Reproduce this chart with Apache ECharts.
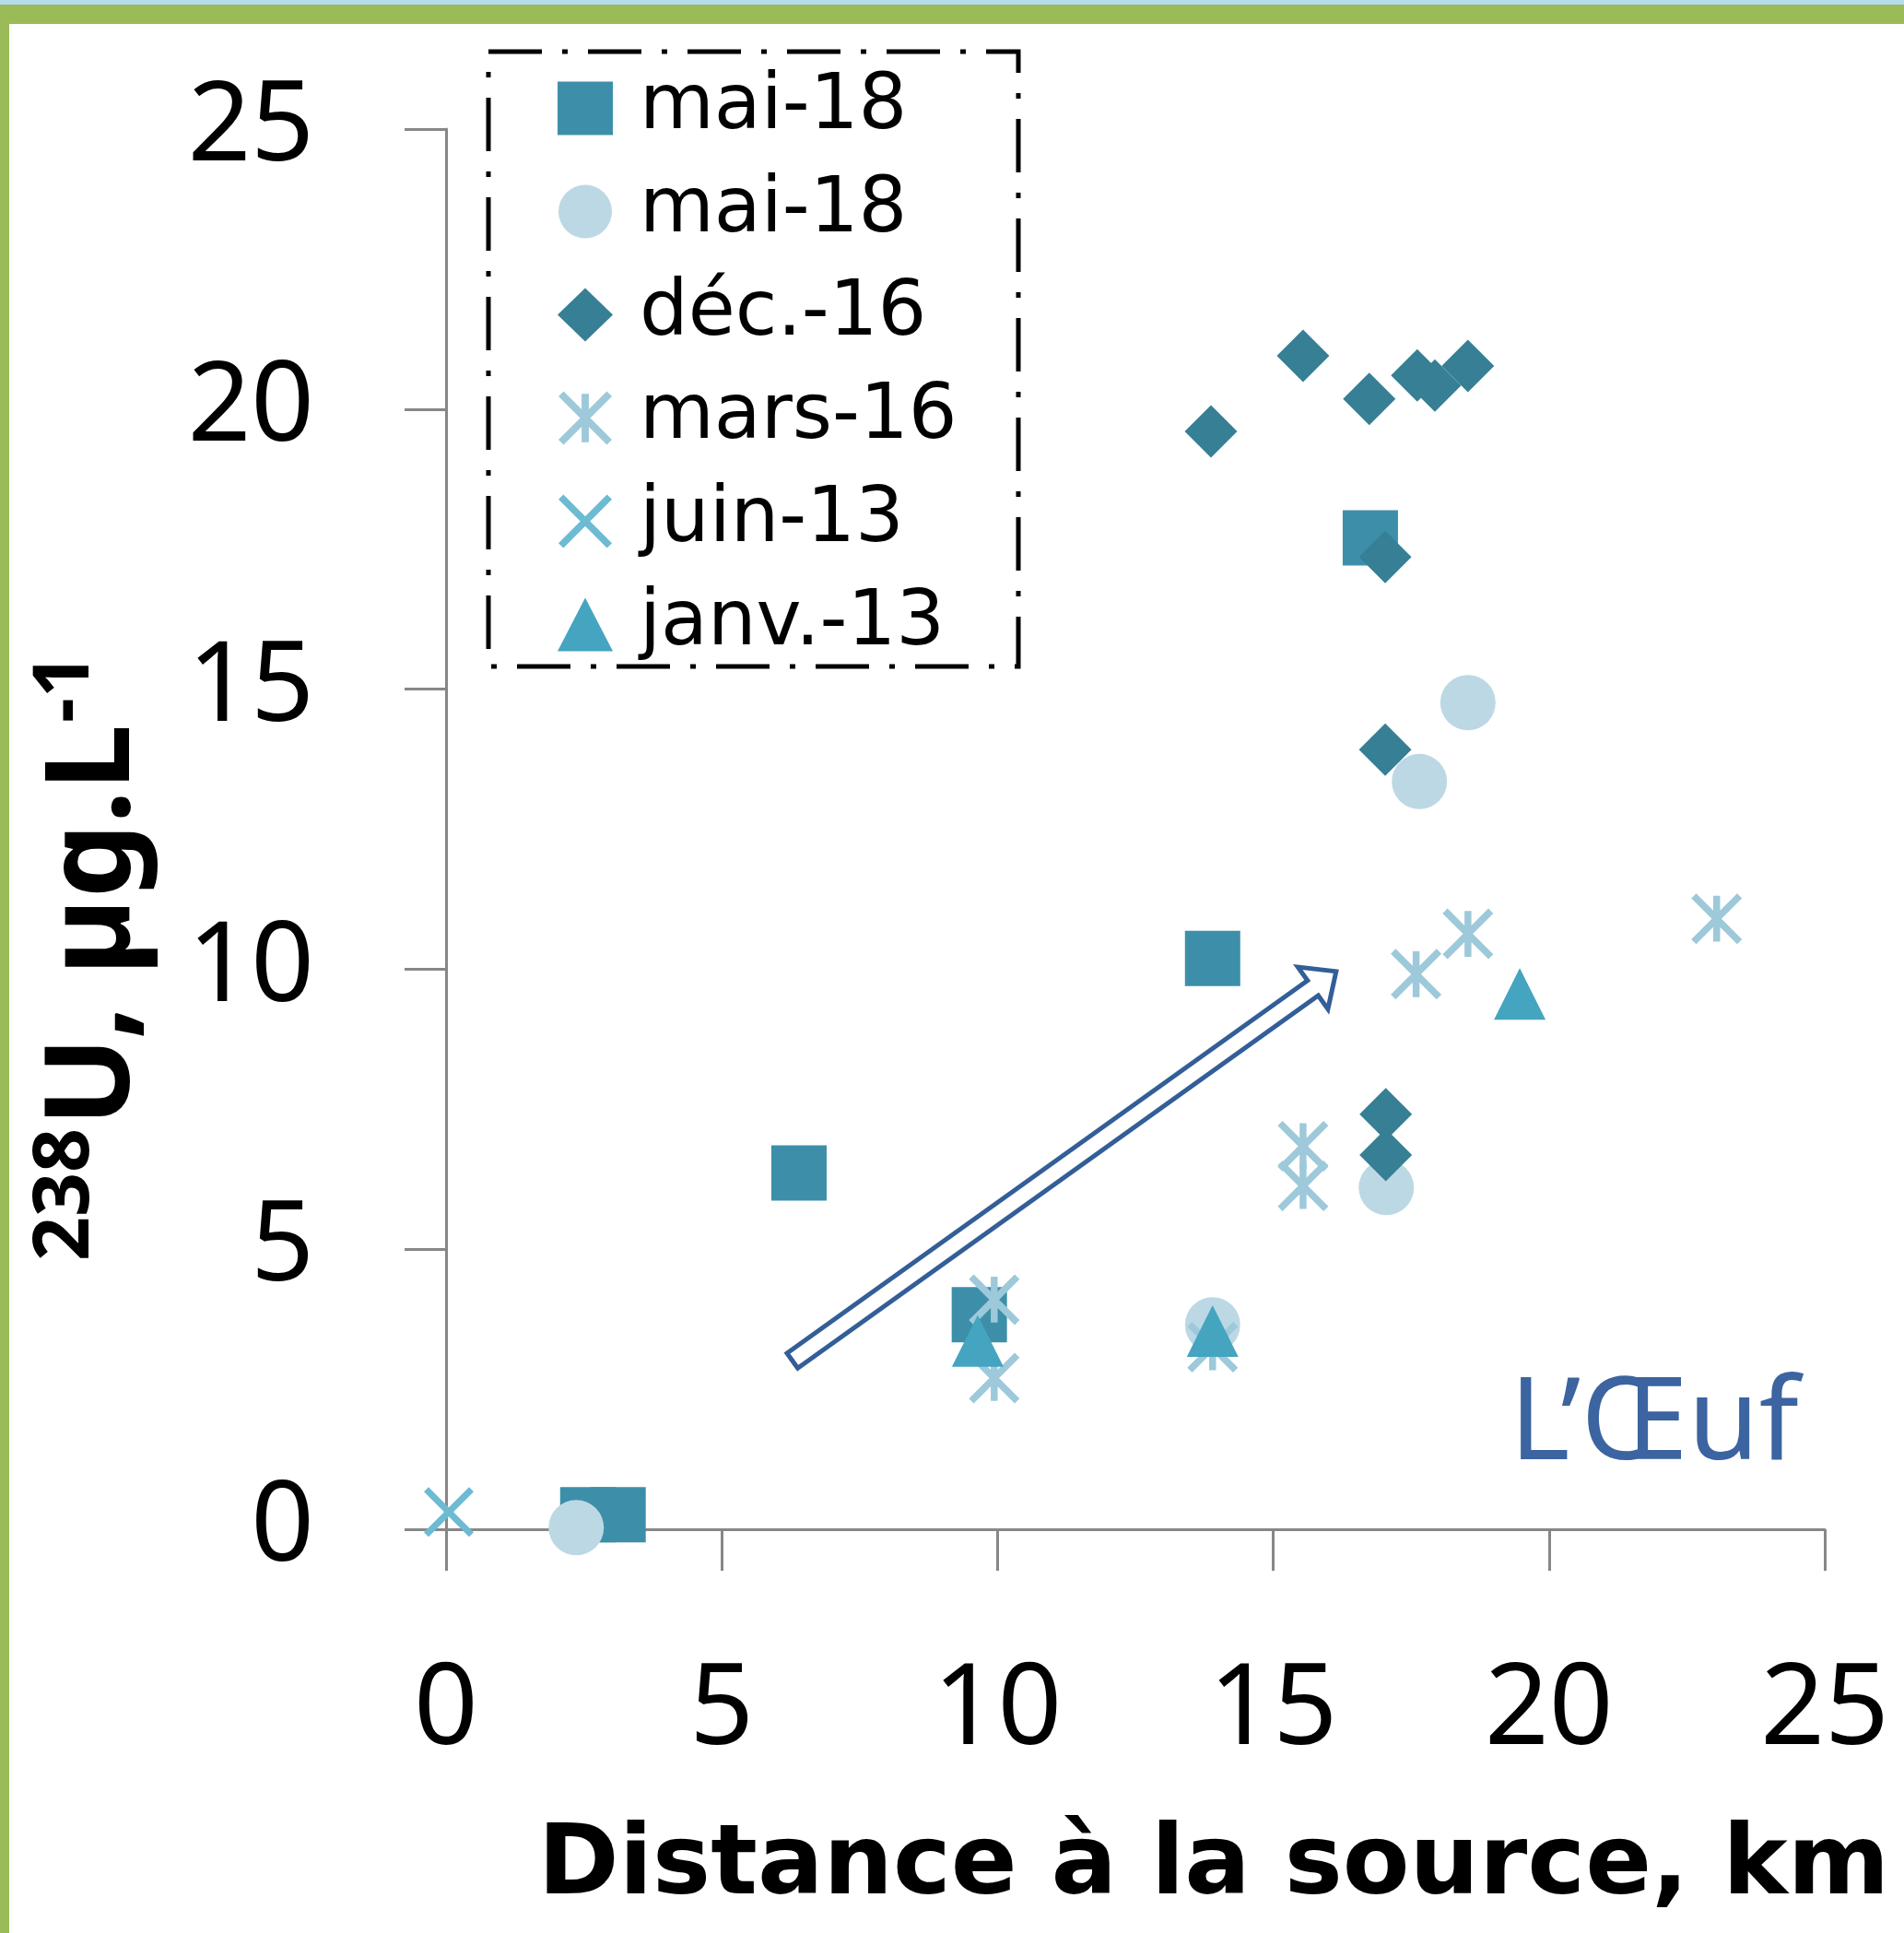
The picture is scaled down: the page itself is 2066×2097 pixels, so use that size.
<!DOCTYPE html>
<html><head><meta charset="utf-8">
<script src="https://cdn.jsdelivr.net/npm/echarts@6/dist/echarts.min.js"></script>
<style>html,body{margin:0;padding:0;background:#fff;} #c{width:2066px;height:2097px;}</style>
</head><body><div id="c"></div>
<script>
// ---------- data ----------
const seriesNames = ['mai-18', 'mai-18', 'déc.-16', 'mars-16', 'juin-13', 'janv.-13'];
const maiSquares = [[2.57, 0.26], [3.12, 0.26], [6.40, 6.36], [9.67, 3.83], [13.90, 10.19], [16.76, 17.70]];
const maiCircles = [[2.36, 0.03], [13.90, 3.65], [17.05, 6.10], [17.65, 13.35], [18.53, 14.76]];
const decDiamonds = [[13.87, 19.60], [15.54, 20.95], [16.74, 20.18], [17.61, 20.60], [17.93, 20.42], [18.53, 20.77], [17.03, 17.36], [17.03, 13.92], [17.04, 7.41], [17.04, 6.68]];
const marsStars = [[9.94, 4.10], [9.94, 2.70], [13.90, 3.25], [15.54, 6.84], [15.54, 6.13], [17.59, 9.91], [18.53, 10.63], [23.04, 10.90]];
const juinCrosses = [[0.05, 0.31]];
const janvTriangles = [[9.64, 3.36], [13.90, 3.54], [19.47, 9.56]];
const axisMin = 0, axisMax = 25, axisStep = 5;
const xTitle = 'Distance à la source, km';
const yTitleSup = '238', yTitleMain = 'U, µg.L', yTitleExp = '-1';
const siteLabel = 'L\u2019\u0152uf';
const trendArrow = [[6.28, 3.01], [16.14, 9.96]];

// ---------- helpers ----------
function barPath(lines, h) {
  let d = '';
  for (const [x1, y1, x2, y2] of lines) {
    const dx = x2 - x1, dy = y2 - y1, L = Math.hypot(dx, dy);
    const nx = -dy / L * h, ny = dx / L * h;
    d += 'M' + (x1 + nx) + ',' + (y1 + ny) + 'L' + (x2 + nx) + ',' + (y2 + ny) +
         'L' + (x2 - nx) + ',' + (y2 - ny) + 'L' + (x1 - nx) + ',' + (y1 - ny) + 'Z';
  }
  return 'path://' + d;
}
const starSymbol = barPath([[0, 0, 10, 10], [10, 0, 0, 10], [5, 0, 5, 10]], 0.75);
const crossSymbol = barPath([[0, 0, 10, 10], [10, 0, 0, 10]], 0.72);

const cnv = document.createElement('canvas').getContext('2d');
function tw(text, font) { cnv.font = font; return cnv.measureText(text).width; }

// unique internal names for duplicate legend labels
const keys = seriesNames.map((n, i) => n + ' '.repeat(seriesNames.slice(0, i).filter(m => m === n).length));

const specs = [
  { data: maiSquares, symbol: 'rect', size: 60, color: '#3D8FA9' },
  { data: maiCircles, symbol: 'circle', size: 60, color: '#BDD8E5' },
  { data: decDiamonds, symbol: 'diamond', size: 57, color: '#367F94' },
  { data: marsStars, symbol: starSymbol, size: 55, color: '#9DC9DA' },
  { data: juinCrosses, symbol: crossSymbol, size: 54, color: '#6DBAD3' },
  { data: janvTriangles, symbol: 'triangle', size: 56, color: '#45A4C0' }
];

const chart = echarts.init(document.getElementById('c'), null, { renderer: 'canvas' });
const axisCommon = {
  type: 'value', min: axisMin, max: axisMax, interval: axisStep,
  axisLine: { show: true, lineStyle: { color: '#878787', width: 3 } },
  axisTick: { show: true, length: 45, lineStyle: { color: '#878787', width: 3 } },
  splitLine: { show: false }
};
chart.setOption({
  animation: false,
  backgroundColor: '#ffffff',
  grid: { left: 484, right: 86, top: 140, bottom: 438, containLabel: false },
  xAxis: Object.assign({}, axisCommon, {
    axisLabel: { margin: 137, fontSize: 122, fontFamily: 'Noto Sans', color: '#000' }
  }),
  yAxis: Object.assign({}, axisCommon, {
    axisLabel: { margin: 143, fontSize: 120, fontFamily: 'Noto Sans', color: '#000', padding: [16, 0, 0, 0] }
  }),
  legend: {
    orient: 'vertical', left: 605, top: 76, padding: 0,
    itemWidth: 60, itemHeight: 58, itemGap: 29,
    selectedMode: false,
    textStyle: { fontFamily: 'DejaVu Sans', fontSize: 83, color: '#000', padding: [0, 0, 0, 24] },
    formatter: n => n.trim(),
    data: keys
  },
  series: specs.map((s, i) => ({
    type: 'scatter', name: keys[i], data: s.data,
    symbol: s.symbol, symbolSize: s.size, symbolKeepAspect: true,
    itemStyle: { color: s.color, opacity: 1 },
    emphasis: { disabled: true },
    z: 2 + i
  }))
});

// ---------- annotations ----------
const p0 = chart.convertToPixel({ gridIndex: 0 }, trendArrow[0]);
const p1 = chart.convertToPixel({ gridIndex: 0 }, trendArrow[1]);
const dx = p1[0] - p0[0], dy = p1[1] - p0[1], L = Math.hypot(dx, dy);
const ux = dx / L, uy = dy / L, nx = -uy, ny = ux;
const sw = 10, hw = 28, hl = 31;
const nk = [p1[0] - ux * hl, p1[1] - uy * hl];
const arrowPts = [
  [p0[0] + nx * sw, p0[1] + ny * sw],
  [nk[0] + nx * sw, nk[1] + ny * sw],
  [nk[0] + nx * hw, nk[1] + ny * hw],
  [p1[0], p1[1]],
  [nk[0] - nx * hw, nk[1] - ny * hw],
  [nk[0] - nx * sw, nk[1] - ny * sw],
  [p0[0] - nx * sw, p0[1] - ny * sw]
];

const supFont = 'bold 84px "Noto Sans"', mainFont = 'bold 128px "Noto Sans"';
const wSup = tw(yTitleSup, supFont), wMain = tw(yTitleMain, mainFont);
function txt(x, y, text, size, weight, family, color, align) {
  return {
    type: 'text', x: x, y: y,
    style: {
      text: text, fontSize: size, fontWeight: weight, fontFamily: family, fill: color,
      align: align, verticalAlign: 'middle', textAlign: align, textVerticalAlign: 'middle'
    }
  };
}

chart.setOption({
  graphic: [
    { type: 'rect', shape: { x: 0, y: 0, width: 2066, height: 5 }, style: { fill: '#B4DCEA' }, z: 0 },
    { type: 'rect', shape: { x: 0, y: 5, width: 2066, height: 21 }, style: { fill: '#9BBB59' }, z: 0 },
    { type: 'rect', shape: { x: 0, y: 5, width: 10, height: 2092 }, style: { fill: '#9BBB59' }, z: 0 },
    {
      type: 'rect', shape: { x: 530, y: 56, width: 575, height: 667 },
      style: { fill: 'none', stroke: '#000', lineWidth: 5, lineDash: [58, 22, 6, 22] }, z: 1
    },
    {
      type: 'polygon', shape: { points: arrowPts },
      style: { fill: '#fff', stroke: '#335E97', lineWidth: 5, lineJoin: 'miter' }, z: 10
    },
    txt(1317, 2063 - 0.346 * 106, xTitle, 106, 'bold', 'DejaVu Sans', '#000', 'center'),
    txt(1638, 1596 - 0.388 * 125, siteLabel, 125, 'normal', 'Noto Sans', '#3B64A0', 'left'),
    {
      type: 'group', x: 153, y: 1368, rotation: Math.PI / 2,
      children: [
        txt(0, -48 - 0.388 * 84, yTitleSup, 84, 'bold', 'Noto Sans', '#000', 'left'),
        txt(wSup + 2, -0.388 * 128, yTitleMain, 128, 'bold', 'Noto Sans', '#000', 'left'),
        txt(wSup + 2 + wMain + 2, -48 - 0.388 * 84, yTitleExp, 84, 'bold', 'Noto Sans', '#000', 'left')
      ]
    }
  ]
});
</script></body></html>
